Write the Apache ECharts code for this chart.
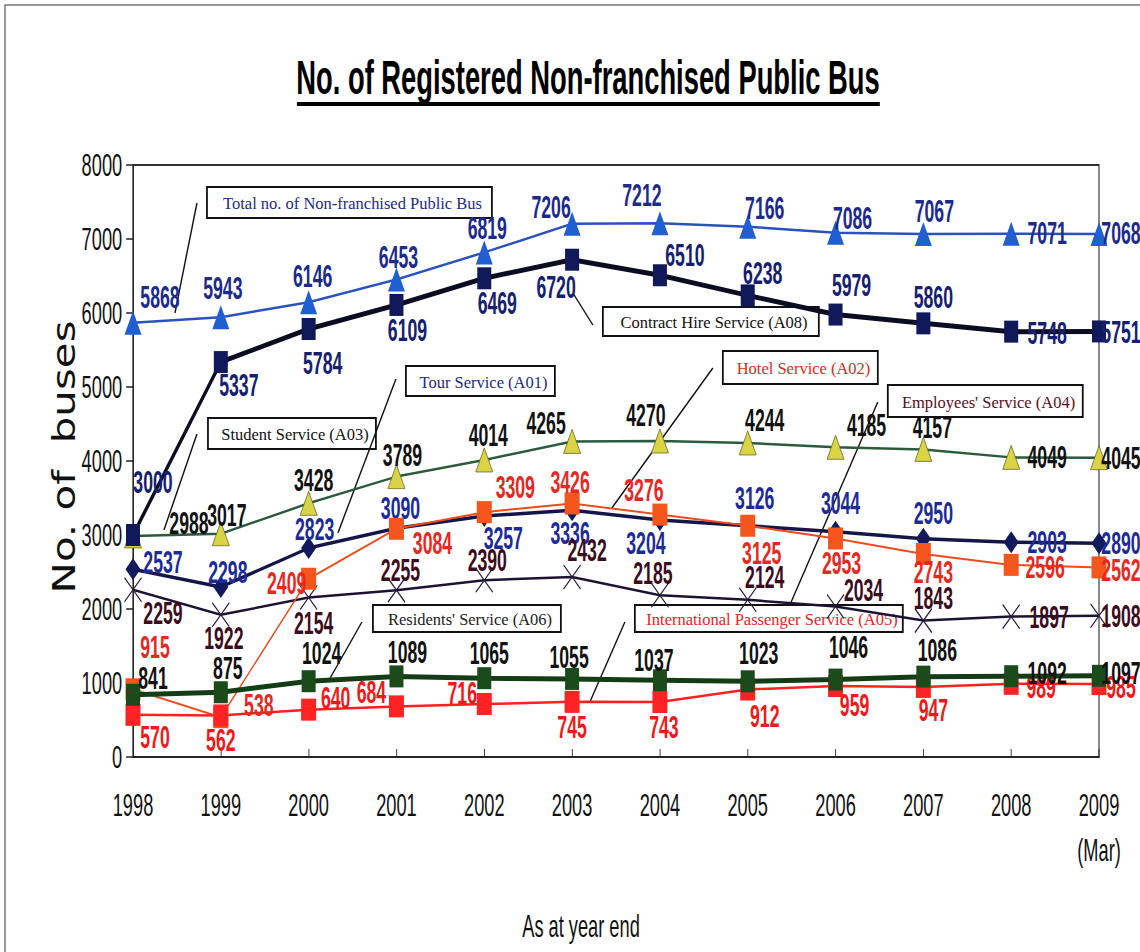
<!DOCTYPE html>
<html>
<head>
<meta charset="utf-8">
<script src="https://cdn.jsdelivr.net/npm/echarts@6/dist/echarts.min.js"></script>
<style>
  html, body { margin: 0; padding: 0; background: #fff; overflow: hidden; }
  /* the source chart uses very condensed type and tall markers, so the whole canvas is squeezed horizontally */
  #chart { width: 2000px; height: 952px; transform: scaleX(0.57); transform-origin: 0 0; }
</style>
</head>
<body>
<div id="chart"></div>
<script>
const S = 0.57

const years = ['1998', '1999', '2000', '2001', '2002', '2003', '2004', '2005', '2006', '2007', '2008', '2009']
const yearLabels = ['1998', '1999', '2000', '2001', '2002', '2003', '2004', '2005', '2006', '2007', '2008', '2009\n(Mar)']
const yMin = 0
const yMax = 8000
const yStep = 1000

const total = [5868, 5943, 6146, 6453, 6819, 7206, 7212, 7166, 7086, 7067, 7071, 7068]
const contractHire = [3000, 5337, 5784, 6109, 6469, 6720, 6510, 6238, 5979, 5860, 5748, 5751]
const student = [2988, 3017, 3428, 3789, 4014, 4265, 4270, 4244, 4185, 4157, 4049, 4045]
const tour = [2537, 2298, 2823, 3090, 3257, 3336, 3204, 3126, 3044, 2950, 2903, 2890]
const hotel = [915, 538, 2409, 3084, 3309, 3426, 3276, 3125, 2953, 2743, 2596, 2562]
const employees = [2259, 1922, 2154, 2255, 2390, 2432, 2185, 2124, 2034, 1843, 1897, 1908]
const residents = [841, 875, 1024, 1089, 1065, 1055, 1037, 1023, 1046, 1086, 1092, 1097]
const international = [570, 562, 640, 684, 716, 745, 743, 912, 959, 947, 989, 985]

// where each value label sits relative to its point (screen px)
const labelShift = {
  total: [[27, -26], [2, -29], [4, -26], [2, -23], [3, -24], [-21, -17], [-18, -28], [17, -19], [17, -15], [11, -23], [36, -1], [22, -1]],
  contractHire: [[20, -53], [18, 23], [14, 34], [11, 25], [13, 25], [-16, 27], [25, -20], [15, -22], [16, -30], [10, -26], [36, 1], [22, 1]],
  student: [[56, -13], [6, -19], [5, -23], [6, -22], [4, -25], [-26, -18], [-14, -26], [17, -23], [31, -22], [9, -22], [36, 0], [22, 0]],
  tour: [[30, -7], [7, -15], [6, -19], [4, -20], [19, 22], [-2, 23], [-14, 23], [7, -28], [5, -29], [10, -26], [36, 0], [22, 0]],
  hotel: [[22, -42], [38, -12], [-22, 4], [36, 14], [31, -25], [-2, -22], [-16, -25], [14, 27], [6, 24], [10, 18], [34, 2], [22, 3]],
  employees: [[30, 23], [3, 23], [5, 25], [4, -20], [3, -20], [15, -27], [-7, -22], [17, -23], [28, -17], [10, -23], [38, 0], [22, 0]],
  residents: [[20, -17], [7, -24], [13, -28], [11, -24], [5, -25], [-3, -22], [-6, -20], [11, -28], [13, -33], [14, -27], [36, -3], [22, -3]],
  international: [[22, 22], [0, 25], [27, -12], [-25, -14], [-22, -11], [0, 25], [4, 25], [17, 26], [19, 19], [10, 23], [30, 3], [22, 3]]
}

// callout boxes, in screen px: box [x1, y1, x2, y2], leader [x1, y1, x2, y2]
const callouts = [
  { text: 'Total no. of Non-franchised Public Bus', color: '#1c2a8a', box: [207, 187, 492, 218], lead: [197, 203, 175, 313] },
  { text: 'Contract Hire Service (A08)', color: '#111', box: [603, 307, 819, 336], lead: [593, 325, 573, 293] },
  { text: 'Tour Service (A01)', color: '#1c2a8a', box: [406, 366, 555, 396], lead: [396, 379, 338, 533] },
  { text: 'Hotel Service (A02)', color: '#e0281e', box: [723, 351, 878, 384], lead: [713, 368, 612, 508] },
  { text: "Employees' Service (A04)", color: '#5a0c1e', box: [888, 385, 1083, 417], lead: [878, 402, 790, 605] },
  { text: 'Student Service (A03)', color: '#111', box: [208, 418, 376, 449], lead: [197, 434, 164, 530] },
  { text: "Residents' Service (A06)", color: '#222', box: [373, 605, 561, 632], lead: [362, 622, 328, 682] },
  { text: 'International Passenger Service (A05)', color: '#e0281e', box: [635, 605, 903, 632], lead: [625, 622, 590, 702] }
]

const mkSeries = (name, values, shift, st) => ({
  name,
  type: 'line',
  z: st.z,
  data: values.map((v, i) => ({ value: v, label: { offset: [shift[i][0] / S, shift[i][1]] } })),
  symbol: st.symbol,
  symbolSize: [st.w / S, st.h],
  lineStyle: { color: st.line, width: st.lw },
  itemStyle: { color: st.fill, borderColor: st.border || st.fill, borderWidth: st.bw || 0 },
  label: {
    show: true,
    position: 'inside',
    color: st.text,
    fontFamily: 'Liberation Sans',
    fontWeight: 'bold',
    fontSize: 31
  },
  emphasis: { disabled: true }
})

const crossPath = 'path://M0 0L10 10M10 0L0 10'

const series = [
  mkSeries('Total', total, labelShift.total,
    { z: 2, symbol: 'triangle', w: 17, h: 24, line: '#2a52be', lw: 2.5, fill: '#1f5fd2', text: '#1c2a8e' }),
  mkSeries('Contract Hire Service (A08)', contractHire, labelShift.contractHire,
    { z: 3, symbol: 'rect', w: 14, h: 22, line: '#0b0b22', lw: 5, fill: '#10195a', text: '#152070' }),
  mkSeries('Student Service (A03)', student, labelShift.student,
    { z: 2, symbol: 'triangle', w: 17, h: 24, line: '#2b5a3d', lw: 2.5, fill: '#d9d446', border: '#6a6420', bw: 1, text: '#111' }),
  mkSeries('Tour Service (A01)', tour, labelShift.tour,
    { z: 2, symbol: 'diamond', w: 15, h: 22, line: '#15154a', lw: 3.5, fill: '#101a5c', text: '#1c2a9a' }),
  mkSeries('Hotel Service (A02)', hotel, labelShift.hotel,
    { z: 3, symbol: 'rect', w: 15, h: 22, line: '#f04a1a', lw: 2, fill: '#f5561e', text: '#e8281e' }),
  mkSeries("Employees' Service (A04)", employees, labelShift.employees,
    { z: 2, symbol: crossPath, w: 17, h: 24, line: '#1c1232', lw: 2.5, fill: 'none', border: '#2a1a3c', bw: 1.6, text: '#3c0c1e' }),
  mkSeries("Residents' Service (A06)", residents, labelShift.residents,
    { z: 4, symbol: 'rect', w: 14, h: 22, line: '#153d15', lw: 5, fill: '#1b4b1b', text: '#111' }),
  mkSeries('International Passenger Service (A05)', international, labelShift.international,
    { z: 3, symbol: 'rect', w: 15, h: 22, line: '#ff2020', lw: 2.5, fill: '#ff2323', text: '#f01818' })
]

// annotation layer drawn in screen px (undoes the horizontal squeeze)
const screenLayer = []
screenLayer.push({ type: 'rect', shape: { x: 5, y: 5, width: 1170, height: 990 }, style: { fill: 'none', stroke: '#777', lineWidth: 1.5 } })
screenLayer.push({ type: 'rect', shape: { x: 297, y: 102, width: 583, height: 4 }, style: { fill: '#000' } })
callouts.forEach(c => {
  const [x1, y1, x2, y2] = c.box
  screenLayer.push({ type: 'rect', shape: { x: x1, y: y1, width: x2 - x1, height: y2 - y1 }, style: { fill: 'none', stroke: '#111', lineWidth: 1.8 } })
  screenLayer.push({
    type: 'text', x: (x1 + x2) / 2 + 3, y: (y1 + y2) / 2 + 1,
    style: { text: c.text, fill: c.color, font: '16.5px "Liberation Serif"', align: 'center', verticalAlign: 'middle' }
  })
  const [a, b, d, e] = c.lead
  screenLayer.push({ type: 'line', shape: { x1: a, y1: b, x2: d, y2: e }, style: { stroke: '#111', lineWidth: 1.4 } })
})
screenLayer.push({
  type: 'text', x: 64, y: 457, rotation: Math.PI / 2, scaleY: 0.75,
  style: { text: 'No. of  buses', fill: '#111', font: '42px "DejaVu Sans"', align: 'center', verticalAlign: 'middle' }
})

const chart = echarts.init(document.getElementById('chart'), null, { renderer: 'svg' })
chart.setOption({
  animation: false,
  backgroundColor: '#fff',
  grid: {
    left: 133 / S, right: (1140 - 1099) / S, top: 165, bottom: 952 - 757,
    show: true, borderColor: '#333', borderWidth: 2, backgroundColor: 'transparent'
  },
  xAxis: {
    type: 'category',
    data: years,
    boundaryGap: false,
    axisLine: { lineStyle: { color: '#222', width: 1.5 } },
    axisTick: { inside: true, length: 8, lineStyle: { color: '#222', width: 1.5 } },
    axisLabel: {
      interval: 0,
      margin: 25,
      color: '#111',
      fontFamily: 'Liberation Sans',
      fontSize: 32,
      lineHeight: 45,
      formatter: (v, i) => yearLabels[i]
    },
    splitLine: { show: false }
  },
  yAxis: {
    type: 'value',
    min: yMin,
    max: yMax,
    interval: yStep,
    axisLine: { show: true, lineStyle: { color: '#222', width: 2 } },
    axisTick: { show: true, length: 12, lineStyle: { color: '#222', width: 1.5 } },
    axisLabel: { margin: 19, color: '#111', fontFamily: 'Liberation Sans', fontSize: 32, formatter: v => String(v) },
    splitLine: { show: false }
  },
  graphic: [
    {
      type: 'text', x: 588 / S, y: 77,
      style: { text: 'No. of Registered Non-franchised Public Bus', fill: '#000', font: 'bold 48px "Liberation Sans"', align: 'center', verticalAlign: 'middle' }
    },
    {
      type: 'text', x: 581 / S, y: 926,
      style: { text: 'As at year end', fill: '#111', font: '32px "Liberation Sans"', align: 'center', verticalAlign: 'middle' }
    },
    { type: 'group', x: 0, y: 0, scaleX: 1 / S, children: screenLayer }
  ],
  series
})
</script>
</body>
</html>
